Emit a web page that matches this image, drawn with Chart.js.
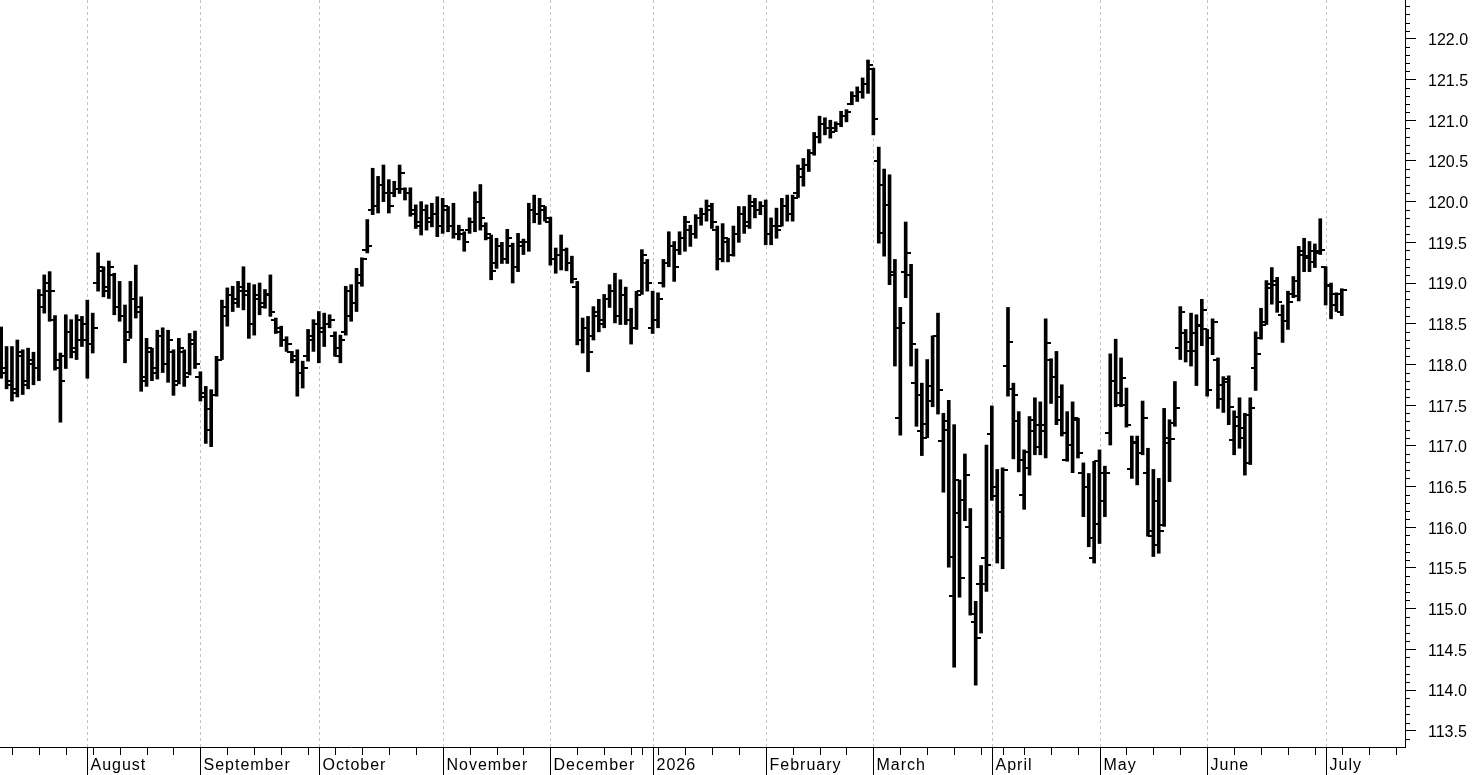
<!DOCTYPE html>
<html>
<head>
<meta charset="utf-8">
<title>Daily bar chart</title>
<script src="https://cdn.jsdelivr.net/npm/chart.js@4.4.1/dist/chart.umd.min.js"></script>
<style>
  html, body { margin: 0; padding: 0; background: #fff; }
  #wrap { width: 1476px; height: 775px; position: relative; }
</style>
</head>
<body>
<div id="wrap"><canvas id="ohlcChart"></canvas></div>
<script>
// trading calendar: weekdays from the first bar, minus exchange holidays
const firstDay = '2025-07-10';
const holidays = ['2025-12-24', '2025-12-25', '2025-12-26', '2025-12-31',
                  '2026-01-01', '2026-04-03', '2026-04-06', '2026-05-01'];
const monthLabels = ['August', 'September', 'October', 'November', 'December', '2026',
                     'February', 'March', 'April', 'May', 'June', 'July'];
const yTickValues = [113.5, 114.0, 114.5, 115.0, 115.5, 116.0, 116.5, 117.0, 117.5,
                     118.0, 118.5, 119.0, 119.5, 120.0, 120.5, 121.0, 121.5, 122.0];

const opens = [
  118.00,117.90,117.75,117.70,118.10,117.80,118.00,117.95,118.70,119.00,
  118.55,117.95,118.10,118.40,118.15,118.30,118.30,118.25,119.00,119.15,
  118.90,119.10,118.70,118.60,118.40,118.80,118.70,117.85,118.15,117.95,
  118.35,118.00,118.15,117.80,118.15,117.90,118.30,117.85,117.60,117.20,
  117.62,118.06,118.60,118.85,118.80,118.90,118.90,118.50,118.80,118.75,
  118.86,118.55,118.40,118.30,118.15,118.10,117.90,118.10,118.30,118.50,
  118.40,118.50,118.35,118.10,118.40,118.60,118.75,119.00,119.40,119.90,
  119.95,120.20,120.10,120.10,120.15,120.15,120.10,119.85,119.70,119.90,
  119.75,119.85,119.70,119.90,119.70,119.60,119.60,119.65,119.75,120.00,
  119.70,119.55,119.25,119.45,119.30,119.45,119.20,119.45,119.50,119.90,
  119.85,119.90,119.75,119.30,119.35,119.40,119.25,118.95,118.30,118.45,
  118.35,118.60,118.55,118.80,118.90,118.60,118.85,118.55,118.45,118.90,
  119.25,118.45,118.55,119.00,119.25,119.45,119.40,119.55,119.65,119.60,
  119.80,119.85,119.90,119.65,119.30,119.50,119.35,119.60,119.85,119.75,
  119.95,119.90,119.95,119.60,119.70,119.70,119.95,119.85,120.10,120.30,
  120.45,120.60,120.80,120.95,120.90,120.90,120.95,121.05,121.20,121.30,
  121.35,121.45,121.63,120.50,120.20,119.96,119.10,117.34,119.13,119.10,
  117.77,117.18,117.27,117.55,118.35,117.06,117.30,115.16,116.18,116.34,
  116.00,114.83,115.30,115.62,117.14,116.50,116.19,117.98,117.70,117.30,
  116.40,116.93,117.18,116.99,117.18,118.06,117.84,117.60,116.82,117.01,
  117.32,116.67,116.50,115.62,116.04,116.32,117.16,117.80,117.50,117.50,
  116.71,117.03,116.91,116.67,115.89,116.32,116.03,117.03,117.28,118.20,
  118.39,118.16,118.16,118.47,118.43,118.32,118.06,117.57,117.79,117.07,
  117.35,117.22,116.79,117.96,118.32,118.52,118.94,119.02,118.61,118.53,
  118.86,118.84,119.35,119.33,119.26,119.37,119.20,118.96,118.73,118.65
];
const highs = [
  118.46,118.22,118.22,118.30,118.18,118.20,118.15,118.92,119.10,119.14,
  118.60,118.14,118.61,118.55,118.61,118.59,118.79,118.63,119.37,119.20,
  119.27,119.12,119.02,118.73,119.02,119.22,118.83,118.32,118.20,118.42,
  118.45,118.42,118.18,118.32,118.18,118.38,118.41,117.91,117.73,117.69,
  118.10,118.79,118.94,118.96,119.02,119.20,119.00,118.98,119.00,118.92,
  119.10,118.57,118.47,118.34,118.16,118.18,118.04,118.43,118.55,118.65,
  118.63,118.61,118.40,118.36,118.96,118.98,119.18,119.31,119.78,120.41,
  120.31,120.45,120.27,120.25,120.45,120.17,120.17,119.96,120.00,119.96,
  119.98,120.06,120.04,119.94,119.98,119.71,119.63,119.80,120.12,120.21,
  119.74,119.59,119.55,119.50,119.66,119.49,119.61,119.54,119.98,120.08,
  120.04,119.94,119.81,119.43,119.59,119.43,119.33,119.02,118.57,118.59,
  118.71,118.80,118.86,118.98,119.12,119.04,118.95,118.69,118.90,119.41,
  119.29,118.90,118.88,119.29,119.63,119.51,119.63,119.82,119.71,119.84,
  119.92,120.02,119.98,119.70,119.73,119.55,119.70,119.94,119.94,120.08,
  120.04,120.00,120.02,119.80,119.92,120.04,120.08,120.08,120.45,120.53,
  120.64,120.85,121.05,121.03,121.00,120.98,121.11,121.13,121.35,121.41,
  121.52,121.74,121.64,120.67,120.40,120.33,119.29,118.70,119.75,119.23,
  118.19,117.77,118.06,118.35,118.63,117.40,117.56,117.26,116.58,116.90,
  116.23,115.09,115.53,117.01,117.49,116.71,116.73,118.70,117.77,117.42,
  116.95,117.36,117.59,117.54,118.56,118.07,118.16,117.75,117.42,117.54,
  117.34,116.79,116.66,116.81,116.95,116.75,118.13,118.31,118.08,117.71,
  117.12,117.12,117.55,116.97,116.71,116.60,117.46,117.32,117.79,118.71,
  118.43,118.63,118.61,118.80,118.43,118.56,118.08,117.85,117.86,117.43,
  117.59,117.40,117.59,118.40,118.69,119.03,119.19,119.07,118.73,118.90,
  119.08,119.45,119.55,119.51,119.48,119.79,119.20,119.00,118.88,118.93
];
const lows = [
  117.83,117.70,117.55,117.60,117.63,117.70,117.75,117.80,118.63,118.53,
  117.93,117.29,117.95,118.08,118.06,118.22,117.83,118.14,118.90,118.83,
  118.81,118.61,118.53,118.02,118.32,118.57,117.67,117.73,117.80,117.82,
  117.90,117.78,117.62,117.76,117.73,117.87,117.95,117.55,117.03,116.99,
  117.61,118.06,118.47,118.65,118.70,118.67,118.32,118.36,118.61,118.69,
  118.59,118.38,118.22,118.16,118.02,117.61,117.71,118.04,118.16,118.02,
  118.22,118.45,118.10,118.02,118.36,118.53,118.65,118.96,119.37,119.84,
  119.86,120.00,119.86,120.06,120.10,120.02,119.82,119.67,119.59,119.65,
  119.69,119.57,119.61,119.63,119.55,119.53,119.39,119.61,119.63,119.65,
  119.53,119.04,119.18,119.24,119.24,119.00,119.14,119.35,119.39,119.74,
  119.72,119.76,119.22,119.12,119.16,119.15,119.00,118.24,118.14,117.91,
  118.30,118.40,118.45,118.70,118.51,118.49,118.49,118.25,118.43,118.86,
  118.90,118.38,118.45,118.95,119.20,119.02,119.35,119.39,119.45,119.55,
  119.71,119.76,119.67,119.16,119.26,119.26,119.33,119.50,119.61,119.67,
  119.80,119.84,119.47,119.47,119.55,119.70,119.76,119.76,120.05,120.19,
  120.37,120.57,120.72,120.82,120.78,120.86,120.92,120.98,121.19,121.23,
  121.27,121.33,120.82,119.49,119.33,118.98,117.98,117.13,118.82,117.98,
  117.24,116.88,117.10,117.48,117.39,116.43,115.51,114.28,115.14,116.08,
  114.92,114.06,114.70,115.21,116.33,115.56,115.49,117.61,116.84,116.68,
  116.22,116.64,116.89,116.89,116.85,117.52,117.26,117.12,116.81,116.67,
  116.85,116.13,115.76,115.56,115.80,116.13,117.01,117.48,117.48,117.23,
  116.60,116.52,116.89,115.89,115.64,115.68,116.01,116.56,117.24,118.06,
  118.03,117.98,117.74,118.23,117.61,118.12,117.46,117.41,117.26,116.89,
  116.97,116.64,116.77,117.68,118.31,118.49,118.74,118.64,118.27,118.43,
  118.82,118.78,119.14,119.14,119.19,119.35,118.73,118.56,118.65,118.60
];
const closes = [
  117.95,117.80,117.65,118.15,117.75,118.05,117.95,118.85,118.90,118.90,
  118.05,117.80,118.40,118.20,118.55,118.50,118.25,118.45,119.20,118.95,
  119.20,118.70,118.60,118.30,118.80,118.65,117.80,118.20,117.90,118.35,
  118.00,118.30,117.75,118.20,117.85,118.25,118.00,117.65,117.45,117.62,
  118.05,118.70,118.85,118.75,118.95,118.85,118.50,118.85,118.70,118.85,
  118.65,118.45,118.30,118.25,118.05,117.90,117.95,118.35,118.50,118.45,
  118.50,118.55,118.20,118.30,118.90,118.75,119.10,119.30,119.45,119.95,
  120.20,120.10,119.95,120.15,120.35,120.10,119.90,119.75,119.90,119.80,
  119.85,119.70,119.95,119.70,119.60,119.65,119.50,119.75,120.00,119.80,
  119.60,119.15,119.45,119.30,119.55,119.20,119.50,119.50,119.90,119.85,
  119.95,119.80,119.30,119.35,119.40,119.25,119.05,118.30,118.45,118.15,
  118.65,118.50,118.80,118.90,118.60,118.85,118.55,118.45,118.85,119.35,
  119.00,118.55,118.80,119.25,119.45,119.20,119.55,119.75,119.60,119.80,
  119.85,119.95,119.75,119.30,119.55,119.35,119.60,119.85,119.70,120.00,
  119.90,119.95,119.60,119.70,119.65,119.95,119.85,120.05,120.40,120.45,
  120.60,120.80,120.95,120.90,120.85,120.95,121.05,121.10,121.30,121.35,
  121.45,121.68,121.01,119.62,119.96,119.14,118.45,118.51,119.37,118.25,
  117.63,117.10,117.73,118.35,117.69,117.19,115.64,116.58,115.38,116.64,
  114.94,114.64,115.30,115.54,116.38,115.87,116.70,118.27,117.63,116.83,
  116.73,117.32,117.26,117.26,118.26,117.84,117.32,117.16,117.01,117.34,
  116.91,116.50,115.87,116.81,116.66,116.66,117.80,117.65,117.83,117.26,
  117.05,116.91,117.34,115.95,115.78,115.95,117.10,117.08,117.46,118.64,
  118.28,118.39,118.49,118.67,117.69,118.52,117.75,117.82,117.48,117.24,
  117.10,117.38,117.47,118.13,118.49,118.99,118.98,118.77,118.53,118.77,
  119.02,119.39,119.31,119.39,119.39,119.40,118.98,118.86,118.86,118.92
];

const X_MIN = -0.22, X_MAX = 260.74;
const Y_MIN = 113.30, Y_MAX = 122.477;
const FONT = '"Liberation Sans", Arial, sans-serif';

function buildCalendar(count) {
  const days = [];
  const d = new Date(firstDay + 'T00:00:00Z');
  while (days.length < count) {
    const dow = d.getUTCDay();
    const iso = d.toISOString().slice(0, 10);
    if (dow !== 0 && dow !== 6 && !holidays.includes(iso)) days.push(iso);
    d.setUTCDate(d.getUTCDate() + 1);
  }
  return days;
}

const days = buildCalendar(Math.ceil(X_MAX) + 1);
const dow = s => new Date(s + 'T00:00:00Z').getUTCDay();

const monthStarts = [];
const weekStarts = [];
for (let i = 1; i < days.length; i++) {
  if (days[i].slice(0, 7) !== days[i - 1].slice(0, 7)) {
    monthStarts.push({ index: i, label: monthLabels[monthStarts.length] || '' });
  }
  if (dow(days[i]) <= dow(days[i - 1])) weekStarts.push(i);
}

// small sprites used as point styles: open tick sits left, close tick right
function makeTick(side) {
  const c = document.createElement('canvas');
  c.width = 10; c.height = 2;
  const g = c.getContext('2d');
  g.fillStyle = '#000';
  g.fillRect(side === 'left' ? 0 : 5, 0, 5, 2);
  return c;
}
const openTick = makeTick('left');
const closeTick = makeTick('right');

// no extra room around the plot: it fills the canvas up to the axes
function noPadding(s) {
  s.paddingLeft = 0; s.paddingRight = 0;
  s.paddingTop = 0; s.paddingBottom = 0;
}

const axisDecor = {
  id: 'axisDecor',
  beforeDatasetsDraw(chart) {
    const { ctx, chartArea, scales: { x } } = chart;
    ctx.save();
    ctx.strokeStyle = '#c4c4c4';
    ctx.lineWidth = 1;
    ctx.setLineDash([3, 3]);
    monthStarts.forEach(m => {
      const px = Math.round(x.getPixelForValue(m.index)) + 0.5;
      ctx.beginPath();
      ctx.moveTo(px, chartArea.top);
      ctx.lineTo(px, chartArea.bottom);
      ctx.stroke();
    });
    ctx.restore();
  },
  afterDraw(chart) {
    const { ctx, chartArea, scales: { x, y } } = chart;
    const bottom = chartArea.bottom;
    ctx.save();
    ctx.strokeStyle = '#000';
    ctx.lineWidth = 1;
    const monthIdx = monthStarts.map(m => m.index);

    weekStarts.forEach(i => {
      if (i < x.min || i > x.max || monthIdx.includes(i)) return;
      const px = Math.round(x.getPixelForValue(i)) + 0.5;
      ctx.beginPath();
      ctx.moveTo(px, bottom);
      ctx.lineTo(px, bottom + 8);
      ctx.stroke();
    });

    ctx.fillStyle = '#000';
    ctx.font = '16px ' + FONT;
    ctx.letterSpacing = '1px';
    ctx.textBaseline = 'alphabetic';
    ctx.textAlign = 'left';
    monthStarts.forEach(m => {
      if (m.index > x.max) return;
      const px = Math.round(x.getPixelForValue(m.index)) + 0.5;
      ctx.beginPath();
      ctx.moveTo(px, bottom);
      ctx.lineTo(px, chart.height);
      ctx.stroke();
      ctx.fillText(m.label, px + 3, bottom + 23);
    });
    ctx.letterSpacing = '0px';

    // minor ticks on the price axis every 0.1
    const k0 = Math.ceil(y.min * 10 - 1e-6), k1 = Math.floor(y.max * 10 + 1e-6);
    for (let k = k0; k <= k1; k++) {
      if (k % 5 === 0) continue;
      const py = Math.round(y.getPixelForValue(k / 10)) + 0.5;
      if (py > bottom - 1) continue;
      ctx.beginPath();
      ctx.moveTo(chartArea.right, py);
      ctx.lineTo(chartArea.right + 5, py);
      ctx.stroke();
    }
    ctx.restore();
  }
};

const idx = opens.map((_, i) => i);

new Chart(document.getElementById('ohlcChart'), {
  type: 'bar',
  data: {
    datasets: [
      {
        type: 'bar',
        data: idx.map(i => ({ x: i, y: [lows[i], highs[i]] })),
        backgroundColor: '#000',
        borderWidth: 0,
        barThickness: 3,
        grouped: false
      },
      {
        type: 'scatter',
        data: idx.map(i => ({ x: i, y: opens[i] })),
        pointStyle: openTick,
        pointRadius: 5,
        pointHoverRadius: 5,
        pointHitRadius: 0
      },
      {
        type: 'scatter',
        data: idx.map(i => ({ x: i, y: closes[i] })),
        pointStyle: closeTick,
        pointRadius: 5,
        pointHoverRadius: 5,
        pointHitRadius: 0
      }
    ]
  },
  options: {
    responsive: true,
    maintainAspectRatio: false,
    animation: false,
    events: [],
    layout: { padding: 0, autoPadding: false },
    plugins: { legend: { display: false }, tooltip: { enabled: false } },
    scales: {
      x: {
        type: 'linear',
        position: 'bottom',
        min: X_MIN,
        max: X_MAX,
        bounds: 'data',
        offset: false,
        ticks: { display: false },
        grid: { display: false },
        border: { display: true, color: '#000', width: 1 },
        afterFit: s => { s.height = 28; noPadding(s); }
      },
      y: {
        type: 'linear',
        position: 'right',
        min: Y_MIN,
        max: Y_MAX,
        bounds: 'data',
        afterBuildTicks: s => { s.ticks = yTickValues.map(v => ({ value: v })); },
        ticks: {
          autoSkip: false,
          color: '#000',
          padding: 12,
          labelOffset: 2,
          font: { family: FONT, size: 16 },
          callback: v => Number(v).toFixed(1)
        },
        grid: { drawOnChartArea: false, drawTicks: true, tickLength: 11, color: '#000', lineWidth: 1 },
        border: { display: true, color: '#000', width: 1 },
        afterFit: s => { s.width = 71; noPadding(s); }
      }
    }
  },
  plugins: [axisDecor]
});
</script>
</body>
</html>
